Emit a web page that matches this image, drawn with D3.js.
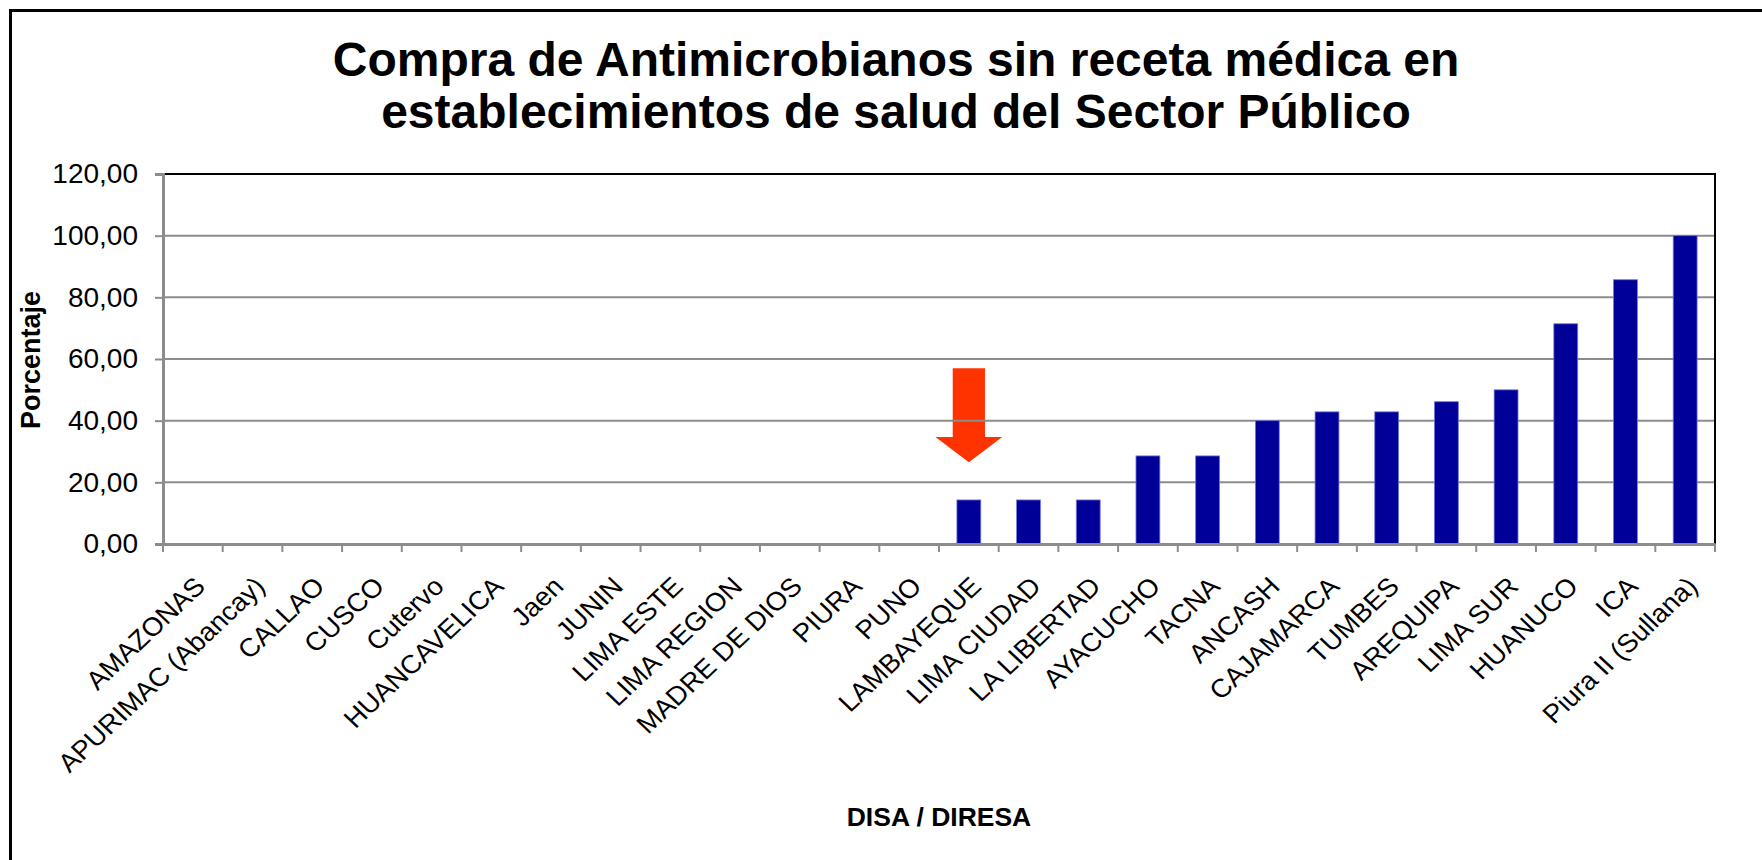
<!DOCTYPE html>
<html>
<head>
<meta charset="utf-8">
<script src="https://cdn.jsdelivr.net/npm/d3@7"></script>
<style>
  html, body { margin: 0; padding: 0; background: #fff; }
  svg { display: block; font-family: "Liberation Sans", Arial, sans-serif; }
</style>
</head>
<body>
<svg id="chart" width="1762" height="860"></svg>
<script>
// ---- data ----
const categories = ["AMAZONAS", "APURIMAC (Abancay)", "CALLAO", "CUSCO", "Cutervo", "HUANCAVELICA",
  "Jaen", "JUNIN", "LIMA ESTE", "LIMA REGION", "MADRE DE DIOS", "PIURA", "PUNO", "LAMBAYEQUE",
  "LIMA CIUDAD", "LA LIBERTAD", "AYACUCHO", "TACNA", "ANCASH", "CAJAMARCA", "TUMBES", "AREQUIPA",
  "LIMA SUR", "HUANUCO", "ICA", "Piura II (Sullana)"];
const values = [0, 0, 0, 0, 0, 0, 0, 0, 0, 0, 0, 0, 0, 14.29, 14.29, 14.29, 28.57, 28.57, 40.00,
  42.86, 42.86, 46.15, 50.00, 71.43, 85.71, 100.00];
const yTicks = [0, 20, 40, 60, 80, 100, 120];
const titleLines = ["Compra de Antimicrobianos sin receta médica en", "establecimientos de salud del Sector Público"];
const yTitle = "Porcentaje";
const xTitle = "DISA / DIRESA";
// annotation arrow: points at this category, spanning these values (top, head start, tip)
const arrowCategory = "LAMBAYEQUE";
const arrowValues = [57, 34.7, 26.5];

// ---- layout ----
const svg = d3.select("#chart");
const W = 1762, H = 860;
const plot = { left: 163, right: 1715, top: 174, bottom: 544 };
const FONT = "'Liberation Sans', Arial, sans-serif";

svg.append("rect").attr("width", W).attr("height", H).attr("fill", "#fff");
// outer frame (left & top visible)
svg.append("path")
  .attr("d", `M10.5,${H + 5} L10.5,10.5 L${W + 5},10.5`)
  .attr("fill", "none").attr("stroke", "#000").attr("stroke-width", 3);

const x = d3.scaleBand().domain(categories).range([plot.left, plot.right]).padding(0);
const y = d3.scaleLinear().domain([0, 120]).range([plot.bottom, plot.top]);
const fmt = v => d3.format(".2f")(v).replace(".", ",");
const gridVals = yTicks.filter(t => t > 0 && t < 120);

// gridlines
svg.append("g").selectAll("line").data(gridVals).join("line")
  .attr("x1", plot.left).attr("x2", plot.right)
  .attr("y1", d => y(d)).attr("y2", d => y(d))
  .attr("stroke", "#8c8c8c").attr("stroke-width", 2);

// arrow annotation
const ac = x(arrowCategory) + x.bandwidth() / 2;
const shaftHalf = x.bandwidth() * 0.27, headHalf = x.bandwidth() * 0.56;
const arrowPts = [
  [ac - shaftHalf, y(arrowValues[0])], [ac + shaftHalf, y(arrowValues[0])],
  [ac + shaftHalf, y(arrowValues[1])], [ac + headHalf, y(arrowValues[1])],
  [ac, y(arrowValues[2])],
  [ac - headHalf, y(arrowValues[1])], [ac - shaftHalf, y(arrowValues[1])]
];
svg.append("polygon").attr("points", arrowPts.map(p => p.join(",")).join(" "))
  .attr("fill", "#ff3300");
// gridline visible through the arrow shaft (as in reference)
svg.append("g").selectAll("line")
  .data(gridVals.filter(d => y(d) > y(arrowValues[0]) && y(d) < y(arrowValues[1])))
  .join("line")
  .attr("x1", ac - shaftHalf).attr("x2", ac + shaftHalf)
  .attr("y1", d => y(d)).attr("y2", d => y(d))
  .attr("stroke", "#8c8c8c").attr("stroke-width", 2);

// bars
const barW = x.bandwidth() / 2.5;
svg.append("g").selectAll("rect").data(categories.map((c, i) => ({ c, v: values[i] })).filter(d => d.v > 0))
  .join("rect")
  .attr("x", d => x(d.c) + (x.bandwidth() - barW) / 2)
  .attr("y", d => y(d.v))
  .attr("width", barW)
  .attr("height", d => y(0) - y(d.v))
  .attr("fill", "#000099")
  .attr("stroke", "#7777dd").attr("stroke-width", 0.8);

// plot border: top & right black
svg.append("path")
  .attr("d", `M${plot.left},${plot.top} L${plot.right},${plot.top} L${plot.right},${plot.bottom}`)
  .attr("fill", "none").attr("stroke", "#000").attr("stroke-width", 2);

// y axis
const yAxis = svg.append("g").attr("transform", `translate(${plot.left},0)`)
  .call(d3.axisLeft(y).tickValues(yTicks).tickFormat(fmt).tickSize(8).tickPadding(17));
yAxis.select(".domain").attr("stroke", "#8c8c8c").attr("stroke-width", 3);
yAxis.selectAll(".tick line").attr("stroke", "#8c8c8c").attr("stroke-width", 2);
yAxis.selectAll(".tick text").attr("font-size", 28).attr("fill", "#000")
  .attr("font-family", FONT);

// x axis
const xAxis = svg.append("g").attr("transform", `translate(0,${plot.bottom})`)
  .call(d3.axisBottom(x).tickSize(0).tickFormat(d => d));
xAxis.select(".domain").attr("stroke", "#8c8c8c").attr("stroke-width", 3);
// boundary ticks
svg.append("g").selectAll("line").data(d3.range(categories.length + 1)).join("line")
  .attr("x1", i => plot.left + i * x.step()).attr("x2", i => plot.left + i * x.step())
  .attr("y1", plot.bottom).attr("y2", plot.bottom + 8)
  .attr("stroke", "#8c8c8c").attr("stroke-width", 2);
xAxis.selectAll(".tick text")
  .attr("font-size", 26).attr("fill", "#000")
  .attr("font-family", FONT)
  .attr("text-anchor", "end")
  .attr("dy", null).attr("y", 0)
  .attr("transform", "translate(14,44) scale(1.06,1) rotate(-45)");

// titles
svg.append("g").selectAll("text").data(titleLines).join("text")
  .attr("x", 896).attr("y", (d, i) => 76 + i * 52)
  .attr("text-anchor", "middle").attr("font-size", 48).attr("font-weight", "bold")
  .text(d => d);

svg.append("text")
  .attr("transform", "translate(40,360) rotate(-90)")
  .attr("text-anchor", "middle").attr("font-size", 27).attr("font-weight", "bold")
  .text(yTitle);

svg.append("text")
  .attr("x", 939).attr("y", 826)
  .attr("text-anchor", "middle").attr("font-size", 26.5).attr("font-weight", "bold")
  .text(xTitle);
</script>
</body>
</html>
